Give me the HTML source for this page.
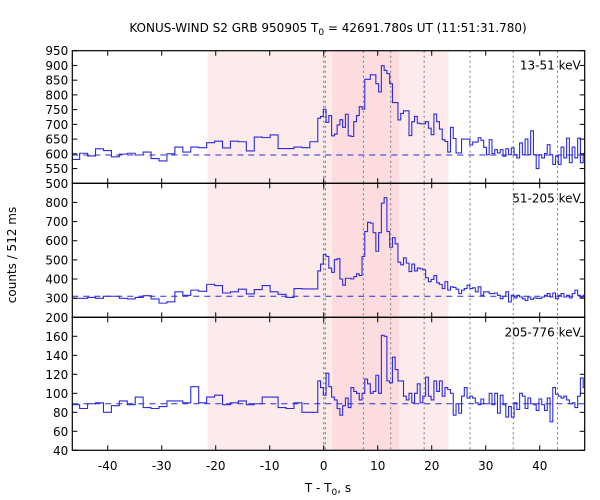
<!DOCTYPE html>
<html><head><meta charset="utf-8">
<style>
body{margin:0;background:#fff;}
svg{display:block;font-family:"DejaVu Sans","Liberation Sans",sans-serif;}
</style></head>
<body>
<svg id="chart" width="600" height="500" viewBox="0 0 600 500" xmlns="http://www.w3.org/2000/svg">
<text x="328" y="32" font-size="12" text-anchor="middle">KONUS-WIND S2 GRB 950905 T<tspan font-size="9" dy="3">0</tspan><tspan dy="-3"> = 42691.780s UT (11:51:31.780)</tspan></text>
<text transform="translate(16,255) rotate(-90)" font-size="12" text-anchor="middle">counts / 512 ms</text>
<text x="328" y="492" font-size="12" text-anchor="middle">T - T<tspan font-size="9" dy="3">0</tspan><tspan dy="-3">, s</tspan></text>
<g id="g"></g>
</svg>
<script>
// ---- data ----
const xRange = [-46.56, 48.33];
const preBinWidth = 1.47;
const postBinWidth = 0.512;
const splitTime = -1.1;
const shadeLight = [-21.5, 23.1];
const shadeDark = [1.6, 14.0];
const markerTimes = [0, 0.3, 7.35, 12.4, 18.6, 27.1, 35.1, 43.3];
const xTicks = [-40, -30, -20, -10, 0, 10, 20, 30, 40];
const bandLabels = ["13-51 keV", "51-205 keV", "205-776 keV"];
const yRanges = [[500, 950], [200, 900], [40, 180]];
const yTickSets = [[500,550,600,650,700,750,800,850,900,950],[200,300,400,500,600,700,800],[40,60,80,100,120,140,160]];
const backgrounds = [596, 310, 89];
const pre1 = [581,602,593,617,611,590,599,602,596,606,584,576,600,623,606,623,621,638,643,620,643,641,610,657,655,664,618,618,623,621,641];
const post1 = [721,727,751,707,730,661,667,698,716,690,734,661,659,709,730,760,752,853,853,868,868,838,810,899,883,872,838,774,774,715,737,746,746,662,709,727,704,702,702,709,687,665,735,709,684,648,642,606,690,652,603,603,650,650,650,630,640,640,655,646,622,597,648,601,614,603,614,592,617,597,620,597,586,637,597,650,597,678,597,550,597,586,601,631,597,564,592,564,623,586,653,570,623,586,653,570,600];
const pre2 = [299,299,304,299,310,310,299,296,304,313,296,274,281,333,315,342,336,372,366,327,333,347,322,345,366,333,320,304,350,348,348];
const post2 = [442,478,527,518,457,435,501,506,400,368,404,404,400,412,427,418,518,648,696,692,642,545,642,796,825,648,566,616,584,488,474,510,483,439,478,442,457,453,448,407,386,398,418,380,372,350,386,342,359,356,347,324,342,350,368,350,354,333,359,315,333,333,324,324,327,315,297,310,333,280,315,301,315,306,297,288,306,294,301,299,299,306,315,324,306,327,297,315,324,306,315,301,324,342,315,306,315];
const pre3 = [88,84,89,90,80,87,92,88,96,85,84,86,92,92,90,107,90,96,98,88,90,92,88,89,96,96,85,84,90,80,80];
const post3 = [113,106,98,121,107,96,93,84,77,87,95,85,106,102,100,93,100,115,110,100,102,119,100,161,160,113,111,138,125,113,113,97,93,100,90,100,110,90,97,117,97,93,113,102,113,97,106,104,100,77,89,79,97,106,95,97,95,90,88,94,89,89,100,88,100,79,98,88,75,86,75,90,83,100,97,84,95,89,88,82,94,88,82,95,70,106,99,97,95,97,93,89,90,85,97,116,106];
const preSeries = [pre1, pre2, pre3];
const postSeries = [post1, post2, post3];

// ---- layout ----
const L = 72.3, R = 584.7;
const panelTops = [50.7, 183.3, 317.3];
const panelBots = [183.3, 317.3, 450.3];
const NS = "http://www.w3.org/2000/svg";
const g = document.getElementById('g');
function xs(t){ return L + (t - xRange[0]) / (xRange[1] - xRange[0]) * (R - L); }
function mk(tag, attrs, parent){ const e = document.createElementNS(NS, tag); for (const k in attrs) e.setAttribute(k, attrs[k]); (parent||g).appendChild(e); return e; }
function cl(t){ return Math.max(xRange[0], Math.min(xRange[1], t)); }

// shading
const shadeTop = panelTops[0], shadeBot = panelBots[2];
let e = mk('rect', {x: xs(shadeLight[0]), y: shadeTop, width: xs(shadeLight[1]) - xs(shadeLight[0]), height: shadeBot - shadeTop, fill: '#fdeaea'});


e = mk('rect', {x: xs(shadeDark[0]), y: shadeTop, width: xs(shadeDark[1]) - xs(shadeDark[0]), height: shadeBot - shadeTop, fill: '#fcdcdf'});



for (let p = 0; p < 3; p++) {
  const T = panelTops[p], B = panelBots[p], yr = yRanges[p];
  const ys = v => B - (v - yr[0]) / (yr[1] - yr[0]) * (B - T);
  const clampY = v => Math.max(T, Math.min(B, ys(v)));
  markerTimes.forEach(m => {
    const ln = mk('line', {x1: xs(m), x2: xs(m), y1: T, y2: B, stroke: '#777', 'stroke-width': 1, 'stroke-dasharray': '2,3'});
    
    
  });
  const bg = mk('line', {x1: L, x2: R, y1: ys(backgrounds[p]), y2: ys(backgrounds[p]), stroke: '#2b2bdd', 'stroke-width': 1, 'stroke-dasharray': '6,5'});
  
  
  const pre = preSeries[p], post = postSeries[p];
  let pts = [];
  const start = splitTime - pre.length * preBinWidth;
  for (let i = 0; i < pre.length; i++) {
    const a = cl(start + i * preBinWidth), b = cl(start + (i + 1) * preBinWidth);
    pts.push([xs(a), clampY(pre[i])], [xs(b), clampY(pre[i])]);
  }
  for (let i = 0; i < post.length; i++) {
    const a = cl(splitTime + i * postBinWidth), b = cl(splitTime + (i + 1) * postBinWidth);
    if (b <= a) continue;
    pts.push([xs(a), clampY(post[i])], [xs(b), clampY(post[i])]);
  }
  const path = mk('path', {d: 'M' + pts.map(q => q[0].toFixed(2) + ',' + q[1].toFixed(2)).join('L'), fill: 'none', stroke: '#2b2bdd', 'stroke-width': 1.1});
  
  
  const fr = mk('rect', {x: L, y: T, width: R - L, height: B - T, fill: 'none', stroke: '#000', 'stroke-width': 1.2});
  
  
  yTickSets[p].forEach(v => {
    const y = ys(v);
    mk('line', {x1: L, x2: L + 5, y1: y, y2: y, stroke: '#000'});
    mk('line', {x1: R, x2: R - 5, y1: y, y2: y, stroke: '#000'});
    if (p > 0 && v === yr[1]) return;
    const tx = mk('text', {x: L - 4, y: y + 4.5, 'font-size': 12, 'text-anchor': 'end'});
    tx.textContent = v;
    
    
  });
  xTicks.forEach(t => {
    const x = xs(t);
    mk('line', {x1: x, x2: x, y1: B, y2: B - 5, stroke: '#000'});
    mk('line', {x1: x, x2: x, y1: T, y2: T + 5, stroke: '#000'});
  });
  const bl = mk('text', {x: R - 4, y: T + 19, 'font-size': 12, 'text-anchor': 'end'});
  bl.textContent = bandLabels[p];
  
  
}
xTicks.forEach(t => {
  const tx = mk('text', {x: xs(t), y: 470, 'font-size': 12, 'text-anchor': 'middle'});
  tx.textContent = t;
  
  
});
</script>
</body></html>
